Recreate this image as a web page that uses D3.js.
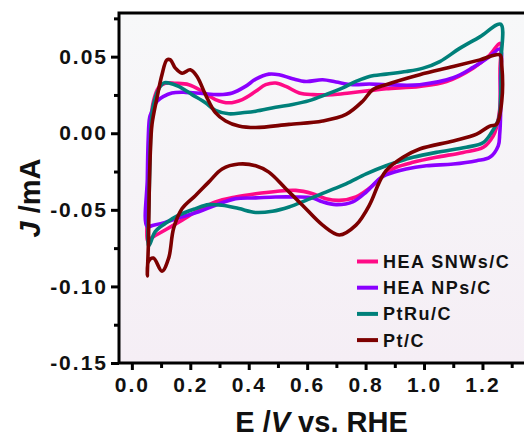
<!DOCTYPE html>
<html>
<head>
<meta charset="utf-8">
<script src="https://cdn.jsdelivr.net/npm/d3@7"></script>
<style>
  html, body { margin: 0; padding: 0; background: #ffffff; }
  svg { display: block; font-family: "Liberation Sans", Arial, sans-serif; font-weight: bold; }
</style>
</head>
<body>
<div id="chart"></div>
<script>
// CV curves, [E (V vs RHE), J (mA)]; each loop goes anodic then cathodic
var snwsCV = [
  [0.053,-0.0699],[0.056,-0.0427],[0.059,-0.0103],[0.065,0.0091],[0.074,0.0209],[0.091,0.0296],
  [0.114,0.0326],[0.149,0.0326],[0.195,0.0317],[0.241,0.0274],[0.286,0.0220],[0.332,0.0199],
  [0.378,0.0220],[0.424,0.0274],[0.458,0.0317],[0.492,0.0328],[0.527,0.0306],[0.573,0.0263],
  [0.619,0.0252],[0.687,0.0252],[0.744,0.0263],[0.813,0.0278],[0.870,0.0291],[0.985,0.0306],
  [1.077,0.0338],[1.168,0.0425],[1.225,0.0511],[1.260,0.0587],[1.260,0.0414],[1.259,0.0155],
  [1.248,0.0039],[1.237,-0.0017],[1.203,-0.0092],[1.134,-0.0125],[1.042,-0.0157],[0.962,-0.0190],
  [0.905,-0.0222],[0.870,-0.0259],[0.825,-0.0341],[0.767,-0.0416],[0.710,-0.0438],[0.664,-0.0427],
  [0.619,-0.0395],[0.561,-0.0373],[0.492,-0.0380],[0.424,-0.0395],[0.355,-0.0416],[0.286,-0.0448],
  [0.229,-0.0503],[0.172,-0.0567],[0.114,-0.0632],[0.074,-0.0675],[0.057,-0.0697]
];

var npsCV = [
  [0.052,-0.0608],[0.053,-0.0298],[0.056,-0.0039],[0.061,0.0103],[0.069,0.0144],[0.086,0.0209],
  [0.109,0.0241],[0.137,0.0263],[0.183,0.0267],[0.241,0.0259],[0.298,0.0252],[0.344,0.0263],
  [0.389,0.0306],[0.424,0.0353],[0.469,0.0386],[0.504,0.0382],[0.550,0.0356],[0.596,0.0338],
  [0.653,0.0349],[0.699,0.0334],[0.756,0.0317],[0.813,0.0321],[0.870,0.0317],[0.985,0.0317],
  [1.100,0.0362],[1.168,0.0430],[1.225,0.0501],[1.260,0.0550],[1.262,0.0349],[1.262,0.0123],
  [1.259,-0.0006],[1.254,-0.0082],[1.225,-0.0157],[1.180,-0.0179],[1.100,-0.0201],[1.008,-0.0212],
  [0.939,-0.0233],[0.870,-0.0272],[0.847,-0.0298],[0.802,-0.0384],[0.756,-0.0448],[0.699,-0.0466],
  [0.653,-0.0448],[0.619,-0.0422],[0.561,-0.0416],[0.492,-0.0416],[0.424,-0.0422],[0.355,-0.0427],
  [0.286,-0.0470],[0.229,-0.0513],[0.172,-0.0545],[0.114,-0.0582],[0.074,-0.0600]
];

var ptruCV = [
  [0.057,-0.0737],[0.059,-0.0427],[0.063,-0.0103],[0.067,0.0091],[0.074,0.0188],[0.091,0.0285],
  [0.109,0.0328],[0.126,0.0328],[0.160,0.0306],[0.206,0.0252],[0.252,0.0199],[0.286,0.0149],
  [0.332,0.0127],[0.378,0.0134],[0.424,0.0144],[0.492,0.0170],[0.550,0.0188],[0.607,0.0213],
  [0.664,0.0252],[0.722,0.0296],[0.767,0.0338],[0.813,0.0371],[0.870,0.0386],[0.939,0.0403],
  [0.997,0.0425],[1.054,0.0468],[1.122,0.0554],[1.191,0.0629],[1.262,0.0712],[1.264,0.0479],
  [1.262,0.0220],[1.255,0.0091],[1.231,0.0005],[1.203,-0.0060],[1.145,-0.0092],[1.042,-0.0125],
  [0.962,-0.0157],[0.905,-0.0190],[0.870,-0.0212],[0.802,-0.0265],[0.733,-0.0330],[0.664,-0.0384],
  [0.596,-0.0438],[0.538,-0.0481],[0.481,-0.0509],[0.424,-0.0517],[0.366,-0.0492],[0.309,-0.0470],
  [0.263,-0.0466],[0.218,-0.0492],[0.160,-0.0535],[0.114,-0.0589],[0.080,-0.0642],[0.063,-0.0718]
];

var ptcCV = [
  [0.053,-0.0931],[0.057,-0.0700],[0.059,-0.0427],[0.063,-0.0136],[0.069,0.0058],[0.086,0.0231],
  [0.103,0.0382],[0.120,0.0479],[0.132,0.0479],[0.149,0.0425],[0.172,0.0392],[0.200,0.0414],
  [0.223,0.0371],[0.252,0.0252],[0.286,0.0134],[0.321,0.0080],[0.366,0.0047],[0.424,0.0037],
  [0.538,0.0058],[0.653,0.0080],[0.733,0.0123],[0.790,0.0209],[0.825,0.0285],[0.870,0.0317],
  [0.985,0.0382],[1.100,0.0435],[1.191,0.0479],[1.260,0.0511],[1.266,0.0446],[1.266,0.0209],
  [1.248,0.0058],[1.225,0.0047],[1.180,-0.0006],[1.100,-0.0050],[0.985,-0.0103],[0.928,-0.0157],
  [0.870,-0.0244],[0.847,-0.0319],[0.813,-0.0470],[0.767,-0.0600],[0.710,-0.0664],[0.653,-0.0600],
  [0.584,-0.0470],[0.527,-0.0362],[0.469,-0.0254],[0.424,-0.0212],[0.366,-0.0201],[0.309,-0.0233],
  [0.263,-0.0319],[0.218,-0.0406],[0.172,-0.0492],[0.143,-0.0621],[0.126,-0.0815],[0.103,-0.0901],
  [0.074,-0.0815],[0.057,-0.0836]
];

var seriesNames = ["HEA SNWs/C", "HEA NPs/C", "PtRu/C", "Pt/C"];
var seriesColors = ["#ff0a86", "#8a00ff", "#00807a", "#7d0000"];
var seriesData = [snwsCV, npsCV, ptruCV, ptcCV];

var xTicks = [0, 0.2, 0.4, 0.6, 0.8, 1.0, 1.2];
var xMinor = [0.1, 0.3, 0.5, 0.7, 0.9, 1.1, 1.3];
var yTicks = [-0.15, -0.10, -0.05, 0.00, 0.05];
var yMinor = [-0.125, -0.075, -0.025, 0.025, 0.075];

var W = 524, H = 439;
var margin = {top: 13, right: -2, bottom: 76, left: 119};
var width = W - margin.left - margin.right,
    height = H - margin.top - margin.bottom;

var svg = d3.select("#chart").append("svg")
  .attr("width", W)
  .attr("height", H);

var defs = svg.append("defs");
var grad = defs.append("linearGradient")
  .attr("id", "bg")
  .attr("x1", 0).attr("y1", 0).attr("x2", 0).attr("y2", 1);
grad.append("stop").attr("offset", "0%").attr("stop-color", "#f7f8f9");
grad.append("stop").attr("offset", "100%").attr("stop-color", "#f5eef5");

var g = svg.append("g")
  .attr("transform", "translate(" + margin.left + "," + margin.top + ")");

var x = d3.scaleLinear().domain([-0.044, 1.349]).range([0, width]);
var y = d3.scaleLinear().domain([-0.15, 0.0785]).range([height, 0]);

g.append("rect")
  .attr("width", width)
  .attr("height", height)
  .attr("fill", "url(#bg)");

// curves
var line = d3.line()
  .x(function(d) { return x(d[0]); })
  .y(function(d) { return y(d[1]); })
  .curve(d3.curveCatmullRomClosed.alpha(0.5));

seriesData.forEach(function(s, i) {
  g.append("path")
    .datum(s)
    .attr("fill", "none")
    .attr("stroke", seriesColors[i])
    .attr("stroke-width", 3.6)
    .attr("stroke-linejoin", "round")
    .attr("d", line);
});

// frame
g.append("rect")
  .attr("width", width + 4)
  .attr("height", height)
  .attr("fill", "none")
  .attr("stroke", "#000")
  .attr("stroke-width", 3);

var fmt = function(f) {
  return function(d) { return d3.format(f)(d).replace("\u2212", "-"); };
};

// x axis
var xAxis = g.append("g")
  .attr("transform", "translate(0," + height + ")")
  .call(d3.axisBottom(x).tickValues(xTicks).tickSize(7).tickSizeOuter(0).tickFormat(fmt(".1f")));
xAxis.select(".domain").remove();
xAxis.selectAll("line").attr("stroke-width", 3);
xAxis.selectAll("text")
  .attr("y", 14)
  .attr("dy", "0.71em")
  .style("font-size", "21px")
  .style("letter-spacing", "2px")
  .attr("fill", "#111");
g.append("g")
  .attr("transform", "translate(0," + height + ")")
  .call(d3.axisBottom(x).tickValues(xMinor).tickSize(5).tickSizeOuter(0).tickFormat(""))
  .call(function(a) { a.select(".domain").remove(); a.selectAll("line").attr("stroke-width", 3); });

// y axis
var yAxis = g.append("g")
  .call(d3.axisLeft(y).tickValues(yTicks).tickSize(8).tickSizeOuter(0).tickFormat(fmt(".2f")));
yAxis.select(".domain").remove();
yAxis.selectAll("line").attr("stroke-width", 3);
yAxis.selectAll("text")
  .attr("x", -11)
  .style("font-size", "21px")
  .style("letter-spacing", "2px")
  .attr("fill", "#111");
g.append("g")
  .call(d3.axisLeft(y).tickValues(yMinor).tickSize(5).tickSizeOuter(0).tickFormat(""))
  .call(function(a) { a.select(".domain").remove(); a.selectAll("line").attr("stroke-width", 3); });

// axis titles
var xt = svg.append("text")
  .attr("x", margin.left + 202.5)
  .attr("y", 432)
  .attr("text-anchor", "middle")
  .style("font-size", "29px")
  .attr("fill", "#111");
xt.append("tspan").text("E /");
xt.append("tspan").style("font-style", "italic").text("V");
xt.append("tspan").text(" vs. RHE");

var yt = svg.append("text")
  .attr("transform", "translate(39.5," + 198 + ") rotate(-90)")
  .attr("text-anchor", "middle")
  .style("font-size", "29px")
  .attr("fill", "#111");
yt.append("tspan").style("font-style", "italic").text("J");
yt.append("tspan").text(" /mA");

// legend
var legend = g.selectAll(".legend")
  .data(seriesNames)
  .enter()
  .append("g")
  .attr("class", "legend")
  .attr("transform", function(d, i) { return "translate(238," + (248.5 + i * 26.2) + ")"; });

legend.append("line")
  .attr("x1", 0).attr("x2", 21)
  .attr("stroke", function(d, i) { return seriesColors[i]; })
  .attr("stroke-width", 4);

legend.append("text")
  .attr("x", 26)
  .attr("dy", "0.36em")
  .style("font-size", "18px")
  .style("letter-spacing", "1.5px")
  .attr("fill", "#111")
  .text(function(d) { return d; });
</script>
</body>
</html>
